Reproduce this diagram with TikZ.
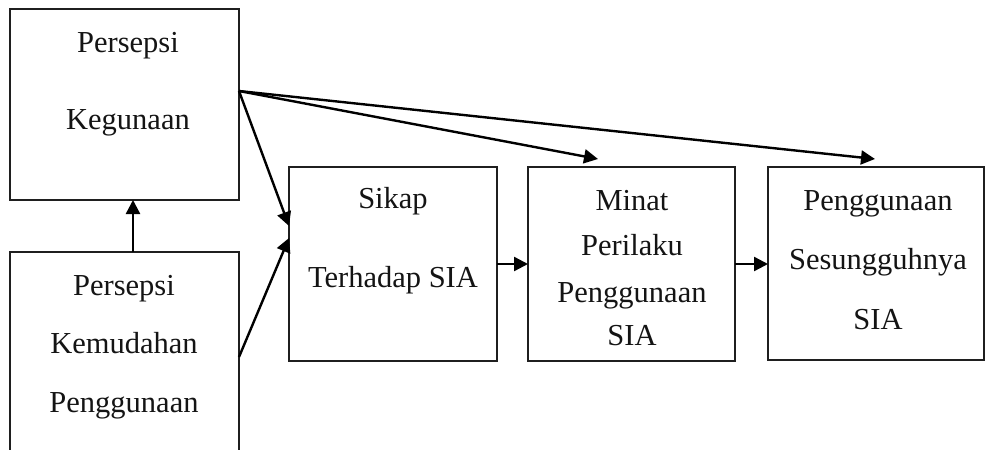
\documentclass[tikz,border=0pt]{standalone}
\usepackage{fontspec}
\setmainfont{Liberation Serif}
\usetikzlibrary{arrows.meta}
\begin{document}
\begin{tikzpicture}[x=1pt,y=-1pt,
  box/.style={draw=black!88, line width=2.5pt, rectangle, inner sep=0pt, outer sep=0pt},
  lbl/.style={inner sep=0pt, anchor=base, font=\fontsize{30.5}{36}\selectfont, text=black!92},
  conn/.style={line width=2.4pt, draw=black, -{Triangle[length=14pt,width=14pt]}}]
\useasboundingbox (0,0) rectangle (986,450);
\clip (0,0) rectangle (986,450);
% boxes
\node[box, minimum width=229pt, minimum height=191pt] (kg) at (124.5,104.5) {};
\node[box, minimum width=229pt, minimum height=200pt] (km) at (124.5,352) {};
\node[box, minimum width=208pt, minimum height=194pt] (sk) at (393,264) {};
\node[box, minimum width=207pt, minimum height=194pt] (mn) at (631.5,264) {};
\node[box, minimum width=216pt, minimum height=193pt] (ps) at (876,263.5) {};
% labels
\node[lbl] (kg1) at (128,52) {Persepsi};
\node[lbl] (kg2) at (128,129) {Kegunaan};
\node[lbl] (km1) at (124,295) {Persepsi};
\node[lbl] (km2) at (124,353) {Kemudahan};
\node[lbl] (km3) at (124,412) {Penggunaan};
\node[lbl] (sk1) at (393,208) {Sikap};
\node[lbl] (sk2) at (393,287) {Terhadap SIA};
\node[lbl] (mn1) at (632,210) {Minat};
\node[lbl] (mn2) at (632,255) {Perilaku};
\node[lbl] (mn3) at (632,302) {Penggunaan};
\node[lbl] (mn4) at (632,345) {SIA};
\node[lbl] (ps1) at (878,210) {Penggunaan};
\node[lbl] (ps2) at (878,269) {Sesungguhnya};
\node[lbl] (ps3) at (878,329) {SIA};
% connector end points
\coordinate (s) at (239,91);
\coordinate (t) at (239,357);
\coordinate (a1) at (289,226);
\coordinate (a2) at (289,238);
\coordinate (tm) at (598,159);
\coordinate (tp) at (875,159);
% connectors
\draw[conn] (km.north -| 133,0) -- (kg.south -| 133,0);
\draw[conn] (s) -- (a1);
\draw[conn] (t) -- (a2);
\draw[conn] (s) -- (tm);
\draw[conn] (s) -- (tp);
\draw[conn] (sk.east) -- (mn.west);
\draw[conn] (mn.east) -- (ps.west |- mn.east);
\end{tikzpicture}
\end{document}
